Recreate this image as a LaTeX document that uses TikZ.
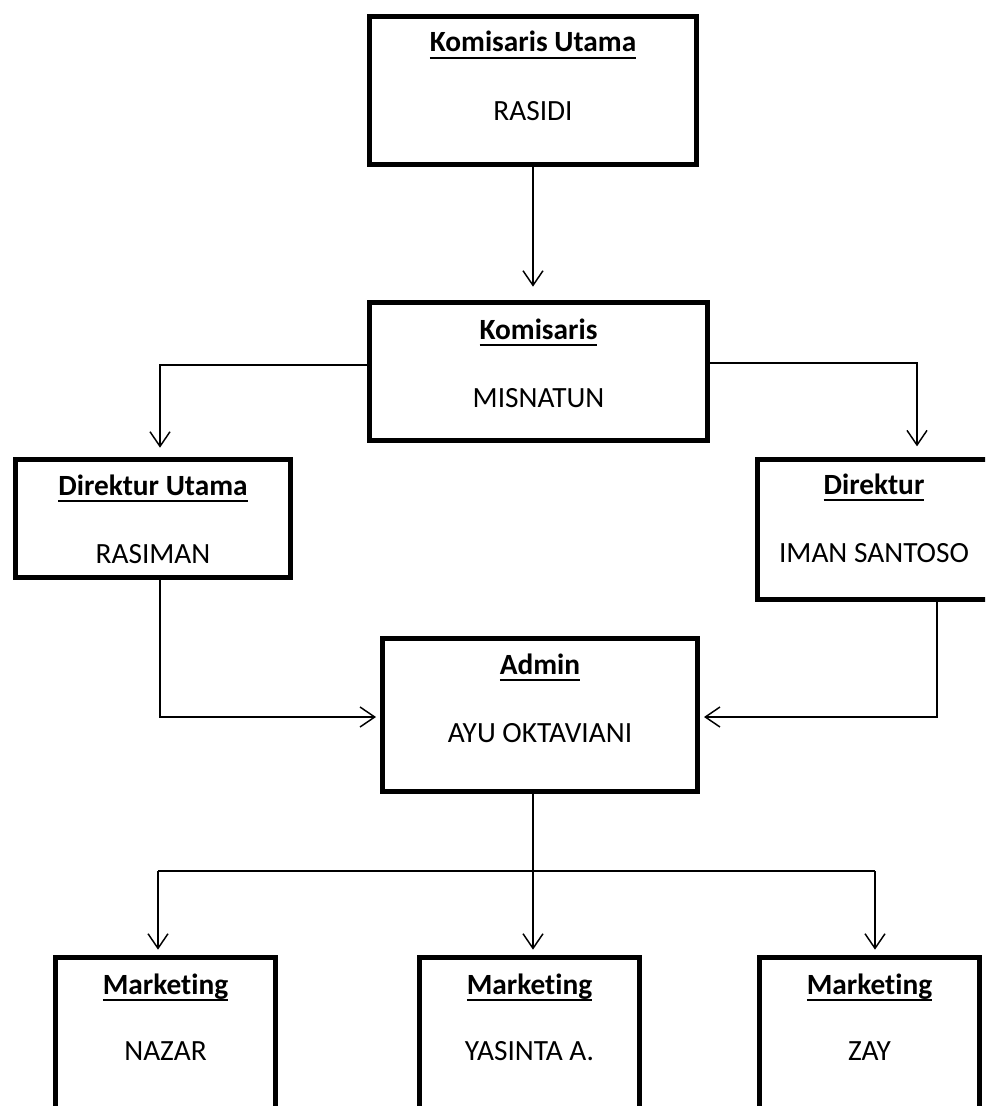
\documentclass[tikz,border=0pt]{standalone}
\usepackage{fontspec}
\setmainfont{Carlito}[Ligatures={NoCommon}]
\usetikzlibrary{arrows.meta,calc}
\newcommand\ulx[1]{\setbox0\hbox{#1}\rlap{\rule[-5pt]{\wd0}{1.3pt}}\box0}
\newcommand\fsz{\fontsize{22pt}{26pt}\selectfont}
\tikzset{
  orgbox/.style={draw, line width=3.75pt, inner sep=0pt, fill=white},
  ttl/.style={font=\fsz\bfseries, anchor=base, inner sep=0pt},
  nm/.style={font=\fsz, anchor=base, inner sep=0pt},
  ln/.style={line width=1.1pt},
  conn/.style={line width=1.1pt, -{Straight Barb[length=11pt,width=15pt,line width=1.1pt]}},
}
\begin{document}
\begin{tikzpicture}[x=0.75pt,y=-0.75pt]
\useasboundingbox (0,0) rectangle (985,1106);
\clip (0,0) rectangle (985,1106);
% boxes
\node[orgbox, minimum width=245.25pt, minimum height=111pt] (ku) at (533,90.5) {};
\node[orgbox, minimum width=253.5pt, minimum height=103.5pt] (km) at (538.5,371.5) {};
\node[orgbox, minimum width=206.25pt, minimum height=88.5pt] (du) at (153,518.5) {};
\node[orgbox, minimum width=174.75pt, minimum height=105pt] (dr) at (874,529.5) {};
\node[orgbox, minimum width=236.25pt, minimum height=114.75pt] (ad) at (540,715) {};
\node[orgbox, minimum width=165pt, minimum height=150pt] (m1) at (165.5,1057.5) {};
\node[orgbox, minimum width=165pt, minimum height=150pt] (m2) at (529.5,1057.5) {};
\node[orgbox, minimum width=165pt, minimum height=150pt] (m3) at (869.5,1057.5) {};
% texts
\node[ttl] (ku-t) at ($(ku.north)+(0,38)$) {\ulx{Komisaris Utama}};
\node[nm]  (ku-n) at ($(ku.north)+(0,106)$) {RASIDI};
\node[ttl] (km-t) at ($(km.north)+(0,39)$) {\ulx{Komisaris}};
\node[nm]  (km-n) at ($(km.north)+(0,107)$) {MISNATUN};
\node[ttl] (du-t) at ($(du.north)+(0,38)$) {\ulx{Direktur Utama}};
\node[nm]  (du-n) at ($(du.north)+(0,106)$) {RASIMAN};
\node[ttl] (dr-t) at ($(dr.north)+(0,37)$) {\ulx{Direktur}};
\node[nm]  (dr-n) at ($(dr.north)+(0,105)$) {IMAN SANTOSO};
\node[ttl] (ad-t) at ($(ad.north)+(0,38)$) {\ulx{Admin}};
\node[nm]  (ad-n) at ($(ad.north)+(0,106.5)$) {AYU OKTAVIANI};
\node[ttl] (m1-t) at ($(m1.north)+(0,39)$) {\ulx{Marketing}};
\node[nm]  (m1-n) at ($(m1.north)+(0,105.5)$) {NAZAR};
\node[ttl] (m2-t) at ($(m2.north)+(0,39)$) {\ulx{Marketing}};
\node[nm]  (m2-n) at ($(m2.north)+(0,105.5)$) {YASINTA A.};
\node[ttl] (m3-t) at ($(m3.north)+(0,39)$) {\ulx{Marketing}};
\node[nm]  (m3-n) at ($(m3.north)+(0,105.5)$) {ZAY};
% connectors
\draw[conn, shorten >=10pt] (ku.south) -- (ku.south |- km.north);
\draw[conn, shorten >=7pt] (km.west |- 0,365) -| (du.north -| 160,0);
\draw[conn, shorten >=8pt] (km.east |- 0,363) -| (dr.north -| 917,0);
\draw[conn, shorten >=3pt] (du.south -| 160,0) |- (ad.west |- 0,717);
\draw[conn, shorten >=3pt] (dr.south -| 937,0) |- (ad.east |- 0,717);
\coordinate (bus) at (533,871);
\coordinate (busL) at (158,871);
\coordinate (busR) at (875,871);
\draw[ln] (ad.south -| bus) -- (bus);
\draw[ln] (busL) -- (busR);
\draw[conn, shorten >=4pt] (busL) -- (m1.north -| busL);
\draw[conn, shorten >=4pt] (bus) -- (m2.north -| bus);
\draw[conn, shorten >=4pt] (busR) -- (m3.north -| busR);
\end{tikzpicture}
\end{document}
